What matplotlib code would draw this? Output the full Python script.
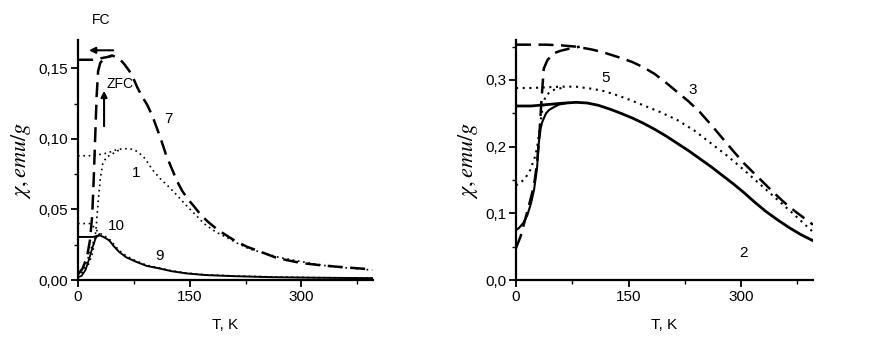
import matplotlib
matplotlib.use("Agg")
import matplotlib.pyplot as plt
from matplotlib.ticker import FuncFormatter, MultipleLocator

plt.rcParams['font.family'] = ['Liberation Sans', 'DejaVu Sans']
plt.rcParams['mathtext.fontset'] = 'stix'

# ---------------- Left panel data ----------------
T7_fc = [0, 10, 20, 30, 40, 46, 55, 62, 69, 75, 80, 86, 93, 100, 107, 113, 118, 125, 133, 140, 148, 156, 165,
         175, 183, 195, 210, 227, 245, 265, 281, 300, 325, 348, 370, 395]
chi7_fc = [0.156, 0.156, 0.156, 0.157, 0.158, 0.159, 0.157, 0.153, 0.148, 0.142, 0.136, 0.130, 0.124, 0.116,
           0.106, 0.097, 0.089, 0.080, 0.070, 0.063, 0.057, 0.052, 0.046, 0.041, 0.0375, 0.033, 0.028, 0.0235,
           0.020, 0.016, 0.014, 0.012, 0.0105, 0.0094, 0.0085, 0.0075]
T7_zfc = [0, 6, 12, 16, 19, 21, 23, 25, 27, 30, 36, 46]
chi7_zfc = [0.004, 0.008, 0.016, 0.028, 0.045, 0.07, 0.10, 0.13, 0.148, 0.154, 0.157, 0.159]

T1_fc = [0, 10, 20, 30, 40, 50, 60, 70, 80, 90, 100, 110, 120, 133, 145, 160, 169, 185, 200, 214, 230, 250,
         270, 300, 340, 370, 395]
chi1_fc = [0.088, 0.088, 0.088, 0.089, 0.090, 0.092, 0.093, 0.093, 0.091, 0.086, 0.078, 0.072, 0.067, 0.060,
           0.053, 0.045, 0.040, 0.034, 0.030, 0.026, 0.022, 0.019, 0.016, 0.013, 0.0095, 0.0082, 0.007]
T1_zfc = [0, 8, 15, 20, 24, 27, 30, 33, 38, 45, 55]
chi1_zfc = [0.002, 0.006, 0.012, 0.02, 0.035, 0.055, 0.072, 0.082, 0.087, 0.089, 0.092]

T10_fc = [0, 10, 17, 22, 27, 30, 36, 42, 55, 65, 78, 92, 109, 125, 145, 171, 210, 260, 320, 395]
chi10_fc = [0.040, 0.040, 0.040, 0.037, 0.034, 0.033, 0.031, 0.029, 0.021, 0.017, 0.0135, 0.0105, 0.0086,
            0.0066, 0.0050, 0.0037, 0.0029, 0.0022, 0.0017, 0.0014]
T10_zfc = [0, 5, 10, 15, 20, 25, 30]
chi10_zfc = [0.002, 0.005, 0.010, 0.018, 0.026, 0.031, 0.033]

T9_fc = [0, 10, 20, 24, 28, 32, 36, 42, 48, 55, 65, 78, 92, 109, 125, 145, 171, 210, 260, 320, 395]
chi9_fc = [0.0305, 0.0305, 0.0305, 0.031, 0.0317, 0.031, 0.030, 0.028, 0.024, 0.020, 0.016, 0.0129, 0.010,
           0.0082, 0.0063, 0.0047, 0.0035, 0.0027, 0.0020, 0.0016, 0.0013]
T9_zfc = [0, 5, 10, 15, 20, 24, 28]
chi9_zfc = [0.002, 0.003, 0.007, 0.015, 0.024, 0.030, 0.0317]

# ---------------- Right panel data ----------------
T3_fc = [0, 20, 40, 60, 80, 100, 115, 126, 140, 155, 170, 185, 200, 215, 230, 245, 260, 275, 290, 304, 322,
         340, 356, 371, 384, 396]
chi3_fc = [0.353, 0.353, 0.353, 0.352, 0.350, 0.346, 0.342, 0.338, 0.333, 0.327, 0.319, 0.309, 0.296, 0.282,
           0.268, 0.252, 0.233, 0.213, 0.193, 0.175, 0.155, 0.135, 0.118, 0.104, 0.093, 0.083]
T3_zfc = [0, 6, 12, 18, 24, 28, 31, 34, 37, 42, 50, 60, 71, 85]
chi3_zfc = [0.048, 0.065, 0.09, 0.115, 0.142, 0.175, 0.215, 0.27, 0.317, 0.33, 0.340, 0.344, 0.347, 0.350]

T5_fc = [0, 20, 40, 60, 80, 100, 115, 130, 150, 170, 192, 215, 238, 260, 282, 304, 326, 349, 372, 396]
chi5_fc = [0.288, 0.288, 0.289, 0.290, 0.290, 0.287, 0.284, 0.279, 0.271, 0.262, 0.252, 0.240, 0.224, 0.205,
           0.186, 0.165, 0.143, 0.120, 0.097, 0.072]
T5_zfc = [0, 6, 12, 19, 26, 29, 32, 35, 39, 45, 52, 65]
chi5_zfc = [0.142, 0.146, 0.152, 0.165, 0.187, 0.205, 0.232, 0.255, 0.275, 0.282, 0.286, 0.289]

T2_fc = [0, 20, 40, 60, 80, 95, 110, 126, 140, 155, 170, 185, 200, 215, 230, 245, 260, 275, 290, 304, 318,
         333, 349, 365, 380, 396]
chi2_fc = [0.261, 0.261, 0.263, 0.265, 0.2665, 0.2655, 0.262, 0.256, 0.250, 0.243, 0.235, 0.226, 0.216, 0.205,
           0.194, 0.182, 0.170, 0.157, 0.144, 0.131, 0.117, 0.103, 0.090, 0.078, 0.068, 0.059]
T2_zfc = [0, 4, 10, 15, 20, 24, 28, 30.5, 33, 35, 40, 44, 50, 57, 70]
chi2_zfc = [0.075, 0.078, 0.086, 0.097, 0.115, 0.135, 0.167, 0.207, 0.228, 0.237, 0.250, 0.255, 0.259, 0.263,
            0.266]

x_ticks = [0, 150, 300]
xlabel = "T, K"
ylabel = r"$\chi, emu/g$"

W, H = 876, 339
fig = plt.figure(figsize=(W / 100, H / 100), dpi=100)


def box(x0, x1, y0, y1):
    return [x0 / W, 1 - y1 / H, (x1 - x0) / W, (y1 - y0) / H]


axL = fig.add_axes(box(78, 373, 40, 280))
axR = fig.add_axes(box(516, 813, 40, 280))

dash = (0, (6, 3))
dot = (0, (1, 2.2))

# Left panel
axL.plot(T7_fc, chi7_fc, color='k', lw=1.8, linestyle=dash)
axL.plot(T7_zfc, chi7_zfc, color='k', lw=1.8, linestyle=dash)
axL.plot(T1_fc, chi1_fc, color='k', lw=1.2, linestyle=dot)
axL.plot(T1_zfc, chi1_zfc, color='k', lw=1.2, linestyle=dot)
axL.plot(T10_fc, chi10_fc, color='k', lw=1.2, linestyle=dot)
axL.plot(T10_zfc, chi10_zfc, color='k', lw=1.2, linestyle=dot)
axL.plot(T9_fc, chi9_fc, color='k', lw=1.4, linestyle='-')
axL.plot(T9_zfc, chi9_zfc, color='k', lw=1.3, linestyle='-')

axL.set_xlim(0, 396)
axL.set_ylim(0, 0.17)
axL.yaxis.set_major_locator(MultipleLocator(0.05))
axL.yaxis.set_minor_locator(MultipleLocator(0.025))
axL.yaxis.set_major_formatter(FuncFormatter(lambda v, p: f"{v:.2f}".replace('.', ',')))

axL.text(31, 0.1845, "FC", fontsize=10, ha='center', va='center', clip_on=False)
axL.annotate("", xy=(11, 0.1627), xytext=(51, 0.1627),
             arrowprops=dict(arrowstyle='-|>', color='k', lw=1.5, mutation_scale=9))
axL.annotate("", xy=(35, 0.136), xytext=(35, 0.107),
             arrowprops=dict(arrowstyle='-|>', color='k', lw=1.5, mutation_scale=9))
axL.text(38, 0.139, "ZFC", fontsize=10, ha='left', va='center')
axL.text(122, 0.114, "7", fontsize=11, ha='center', va='center')
axL.text(78, 0.076, "1", fontsize=11, ha='center', va='center')
axL.text(52, 0.038, "10", fontsize=11, ha='center', va='center')
axL.text(110, 0.017, "9", fontsize=11, ha='center', va='center')

# Right panel
axR.plot(T3_fc, chi3_fc, color='k', lw=1.8, linestyle=dash)
axR.plot(T3_zfc, chi3_zfc, color='k', lw=1.8, linestyle=dash)
axR.plot(T5_fc, chi5_fc, color='k', lw=1.5, linestyle=dot)
axR.plot(T5_zfc, chi5_zfc, color='k', lw=1.5, linestyle=dot)
axR.plot(T2_fc, chi2_fc, color='k', lw=2.0, linestyle='-')
axR.plot(T2_zfc, chi2_zfc, color='k', lw=1.5, linestyle='-')

axR.set_xlim(0, 396)
axR.set_ylim(0, 0.36)
axR.yaxis.set_major_locator(MultipleLocator(0.1))
axR.yaxis.set_minor_locator(MultipleLocator(0.05))
axR.yaxis.set_major_formatter(FuncFormatter(lambda v, p: f"{v:.1f}".replace('.', ',')))

axR.text(120, 0.303, "5", fontsize=11, ha='center', va='center')
axR.text(236, 0.285, "3", fontsize=11, ha='center', va='center')
axR.text(303, 0.040, "2", fontsize=11, ha='center', va='center')

for ax in (axL, axR):
    ax.set_xticks(x_ticks)
    ax.xaxis.set_minor_locator(MultipleLocator(75))
    ax.spines['top'].set_visible(False)
    ax.spines['right'].set_visible(False)
    ax.spines['left'].set_linewidth(1.6)
    ax.spines['bottom'].set_linewidth(1.6)
    ax.tick_params(which='major', direction='out', length=5, width=1.3, labelsize=11, pad=2)
    ax.tick_params(which='minor', direction='out', length=3, width=1.0)
    ax.set_xlabel(xlabel, fontsize=11, labelpad=10)
    ax.set_ylabel(ylabel, fontsize=16, labelpad=4)

fig.savefig("out.png", dpi=100)
